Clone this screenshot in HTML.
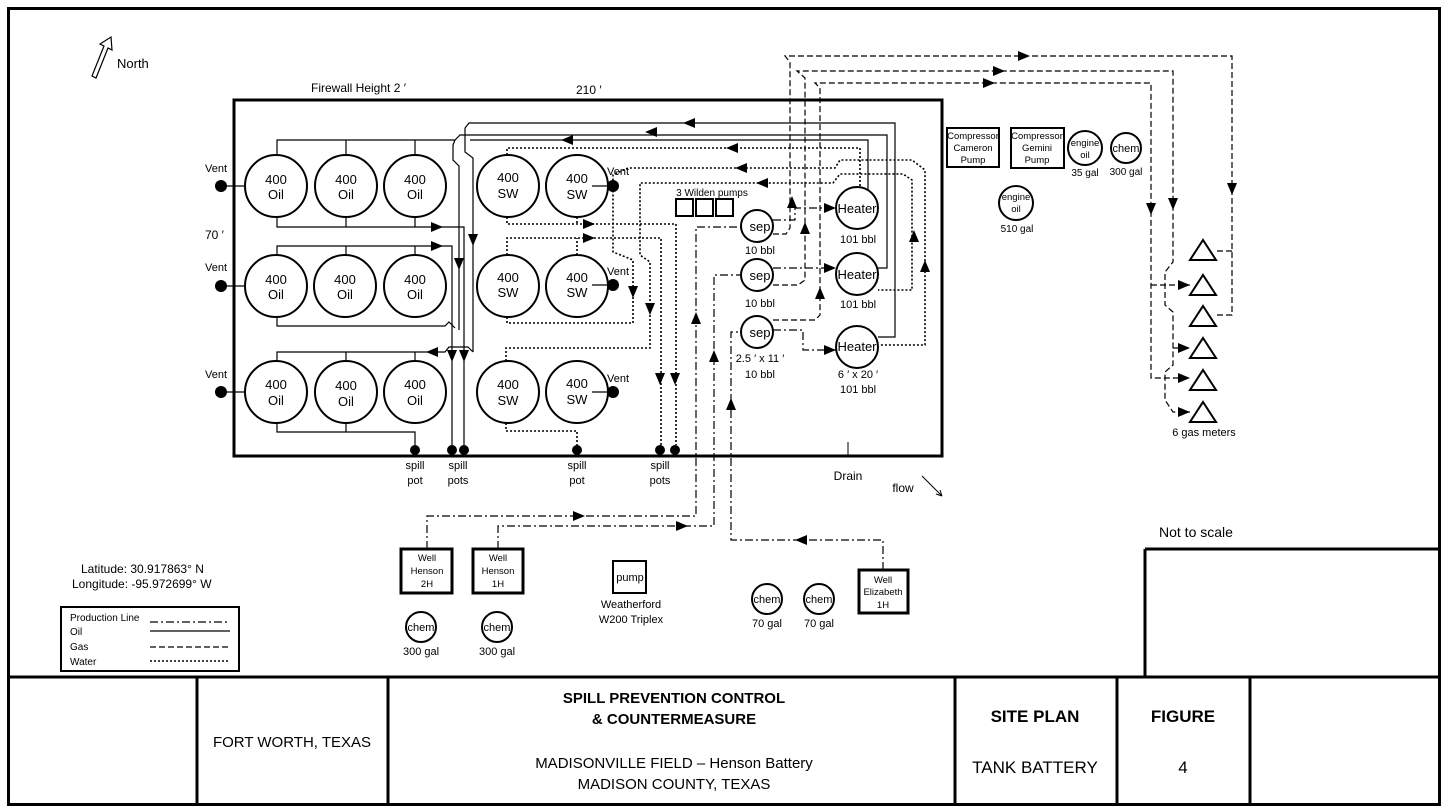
<!DOCTYPE html>
<html><head><meta charset="utf-8"><style>
html,body{margin:0;padding:0;background:#fff;}
svg{display:block;}
text{font-family:"Liberation Sans",sans-serif;fill:#000;}
</style></head><body>
<svg width="1448" height="811" viewBox="0 0 1448 811" xmlns="http://www.w3.org/2000/svg">
<g fill="none" stroke="#000">
<rect x="8.5" y="8.5" width="1431" height="796" stroke-width="3"/>
<line x1="8" y1="677" x2="1440" y2="677" stroke-width="3"/>
<line x1="197" y1="677" x2="197" y2="805" stroke-width="3"/>
<line x1="388" y1="677" x2="388" y2="805" stroke-width="3"/>
<line x1="955" y1="677" x2="955" y2="805" stroke-width="3"/>
<line x1="1117" y1="677" x2="1117" y2="805" stroke-width="3"/>
<line x1="1250" y1="677" x2="1250" y2="805" stroke-width="3"/>
<line x1="1145" y1="549" x2="1440" y2="549" stroke-width="3"/>
<line x1="1145" y1="549" x2="1145" y2="677" stroke-width="3"/>
<rect x="234" y="100" width="708" height="356" stroke-width="3"/>
<line x1="848" y1="442" x2="848" y2="456" stroke-width="1"/>
<path d="M92,76 L104,46 L100,44 L111,37 L112,50 L108,48 L96,78z" stroke-width="1.2"/>
<path d="M922,476 L942,496 M942,496 L936,494 M942,496 L940,490" stroke-width="1"/>
</g>

<g fill="none" stroke="#000" stroke-width="2">
<circle cx="276" cy="186" r="31"/><circle cx="346" cy="186" r="31"/><circle cx="415" cy="186" r="31"/>
<circle cx="276" cy="286" r="31"/><circle cx="345" cy="286" r="31"/><circle cx="415" cy="286" r="31"/>
<circle cx="276" cy="392" r="31"/><circle cx="346" cy="392" r="31"/><circle cx="415" cy="392" r="31"/>
<circle cx="508" cy="186" r="31"/><circle cx="577" cy="186" r="31"/>
<circle cx="508" cy="286" r="31"/><circle cx="577" cy="286" r="31"/>
<circle cx="508" cy="392" r="31"/><circle cx="577" cy="392" r="31"/>
<circle cx="757" cy="226" r="16"/><circle cx="757" cy="275" r="16"/><circle cx="757" cy="332" r="16"/>
<circle cx="857" cy="208" r="21"/><circle cx="857" cy="274" r="21"/><circle cx="857" cy="347" r="21"/>
<rect x="676" y="199" width="17" height="17"/><rect x="696" y="199" width="17" height="17"/><rect x="716" y="199" width="17" height="17"/>
<rect x="947" y="128" width="52" height="39"/><rect x="1011" y="128" width="53" height="40"/>
<circle cx="1085" cy="148" r="17"/><circle cx="1126" cy="148" r="15"/><circle cx="1016" cy="203" r="17"/>
<rect x="401" y="549" width="51" height="44" stroke-width="3"/><rect x="473" y="549" width="50" height="44" stroke-width="3"/>
<rect x="859" y="570" width="49" height="43" stroke-width="3"/>
<rect x="613" y="561" width="33" height="32"/>
<circle cx="421" cy="627" r="15"/><circle cx="497" cy="627" r="15"/><circle cx="767" cy="599" r="15"/><circle cx="819" cy="599" r="15"/>
<rect x="61" y="607" width="178" height="64" stroke-width="2"/>
</g>
<g fill="none" stroke="#000" stroke-width="2">
<path d="M1190,260 L1216,260 L1203,240z"/><path d="M1190,295 L1216,295 L1203,275z"/>
<path d="M1190,326 L1216,326 L1203,306z"/><path d="M1190,358 L1216,358 L1203,338z"/>
<path d="M1190,390 L1216,390 L1203,370z"/><path d="M1190,422 L1216,422 L1203,402z"/>
</g>
<g fill="#000">
<circle cx="221" cy="186" r="6"/><circle cx="221" cy="286" r="6"/><circle cx="221" cy="392" r="6"/>
<circle cx="613" cy="186" r="6"/><circle cx="613" cy="285" r="6"/><circle cx="613" cy="392" r="6"/>
<circle cx="415" cy="450" r="5"/><circle cx="452" cy="450" r="5"/><circle cx="464" cy="450" r="5"/>
<circle cx="577" cy="450" r="5"/><circle cx="660" cy="450" r="5"/><circle cx="675" cy="450" r="5"/>
</g>
<g fill="none" stroke="#000" stroke-width="1.2">
<path d="M221,186H245 M221,286H245 M221,392H245 M592,186H608 M592,285H608 M592,392H608"/>
<path d="M277,155V140H455 M346,155V140 M415,155V140"/>
<path d="M277,217V227H464V445 M346,217V227 M415,217V227"/>
<path d="M277,255V246H452V445 M346,255V246 M415,255V246"/>
<path d="M277,317V326H445L449,322L455,328"/>
<path d="M277,361V352H445L449,347H468L473,352 M346,361V352 M415,361V352"/>
<path d="M277,423V432H415V445 M346,423V432"/>
<path d="M455,140L460,135H887V268H878"/>
<path d="M455,140L453,145V160L459,166V330"/>
<path d="M465,128L469,123H895V337H878 M465,128V152L473,158V352"/>
<path d="M470,140H868V190"/>
</g>
<g fill="#000">
<path d="M443,227l-12,-5v10z M443,246l-12,-5v10z M426,352l12,-5v10z"/>
<path d="M464,362l-5,-12h10z M452,362l-5,-12h10z M459,270l-5,-12h10z M473,246l-5,-12h10z"/>
<path d="M683,123l12,-5v10z M645,132l12,-5v10z M561,140l12,-5v10z"/>
</g>
<g fill="none" stroke="#000" stroke-width="1.6" stroke-dasharray="2,2">
<path d="M507,155V148H860V188"/>
<path d="M507,217V224H676V445 M577,217V224"/>
<path d="M507,255V238H661V445 M577,255V238"/>
<path d="M507,317V323H633V260L613,252V175L628,168H835L840,160H912L925,170V345H880"/>
<path d="M506,361V348H650V262L640,255V183H833L840,174H903L912,180V290H878"/>
<path d="M506,423V431H577V445"/>
</g>
<g fill="#000">
<path d="M595,224l-12,-5v10z M595,238l-12,-5v10z M726,148l12,-5v10z M756,183l12,-5v10z M735,168l12,-5v10z"/>
<path d="M633,298l-5,-12h10z M650,315l-5,-12h10z M660,385l-5,-12h10z M675,385l-5,-12h10z"/>
<path d="M914,230l-5,12h10z M925,260l-5,12h10z"/>
</g>
<g fill="none" stroke="#000" stroke-width="1.2" stroke-dasharray="6,3">
<path d="M773,234H786L790,228V62L785,56H1232V315H1216"/>
<path d="M773,285H798L805,280V78L797,71H1173V262L1165,272V305L1173,312V365L1165,372V400L1173,412H1190"/>
<path d="M773,320H815L820,315V88L815,83H1151V378H1190 M1151,285H1190 M1173,348H1190"/>
<path d="M1232,251H1216"/>
</g>
<g fill="#000">
<path d="M792,196l-5,12h10z M805,222l-5,12h10z M820,287l-5,12h10z"/>
<path d="M1030,56l-12,-5v10z M1005,71l-12,-5v10z M995,83l-12,-5v10z"/>
<path d="M1232,195l-5,-12h10z M1173,210l-5,-12h10z M1151,215l-5,-12h10z"/>
<path d="M1190,285l-12,-5v10z M1190,348l-12,-5v10z M1190,378l-12,-5v10z M1190,412l-12,-5v10z"/>
</g>
<g fill="none" stroke="#000" stroke-width="1.2" stroke-dasharray="8,3,2,3">
<path d="M427,549V516H696V227H741"/>
<path d="M498,549V526H714V275H741"/>
<path d="M883,570V540H731V332H741"/>
<path d="M773,220H795V208H836 M773,268H836 M773,330H803V350H836"/>
<path d="M150,622H230"/>
</g>
<g fill="#000">
<path d="M585,516l-12,-5v10z M688,526l-12,-5v10z M795,540l12,-5v10z"/>
<path d="M696,312l-5,12h10z M714,350l-5,12h10z M731,398l-5,12h10z"/>
<path d="M836,208l-12,-5v10z M836,268l-12,-5v10z M836,350l-12,-5v10z"/>
</g>
<g fill="none" stroke="#000" stroke-width="1.2">
<path d="M150,631H230"/>
<path d="M150,647H230" stroke-dasharray="6,3"/>
<path d="M150,661H230" stroke-width="1.6" stroke-dasharray="2,2"/>
</g>

<g font-size="13" text-anchor="middle">
<text x="276" y="184">400</text><text x="276" y="199">Oil</text>
<text x="346" y="184">400</text><text x="346" y="199">Oil</text>
<text x="415" y="184">400</text><text x="415" y="199">Oil</text>
<text x="276" y="284">400</text><text x="276" y="299">Oil</text>
<text x="345" y="284">400</text><text x="345" y="299">Oil</text>
<text x="415" y="284">400</text><text x="415" y="299">Oil</text>
<text x="276" y="389">400</text><text x="276" y="405">Oil</text>
<text x="346" y="390">400</text><text x="346" y="406">Oil</text>
<text x="415" y="389">400</text><text x="415" y="405">Oil</text>
<text x="508" y="182">400</text><text x="508" y="198">SW</text>
<text x="577" y="183">400</text><text x="577" y="199">SW</text>
<text x="508" y="282">400</text><text x="508" y="297">SW</text>
<text x="577" y="282">400</text><text x="577" y="297">SW</text>
<text x="508" y="389">400</text><text x="508" y="405">SW</text>
<text x="577" y="388">400</text><text x="577" y="404">SW</text>
<text x="760" y="231">sep</text><text x="760" y="280">sep</text><text x="760" y="337">sep</text>
<text x="857" y="213">Heater</text><text x="857" y="279">Heater</text><text x="857" y="351">Heater</text>
</g>
<g font-size="11" text-anchor="middle">
<text x="216" y="172">Vent</text><text x="216" y="271">Vent</text><text x="216" y="378">Vent</text>
<text x="618" y="175">Vent</text><text x="618" y="275">Vent</text><text x="618" y="382">Vent</text>
<text x="760" y="254">10 bbl</text><text x="760" y="307">10 bbl</text>
<text x="760" y="362">2.5 ′ x 11 ′</text><text x="760" y="378">10 bbl</text>
<text x="858" y="243">101 bbl</text><text x="858" y="308">101 bbl</text>
<text x="858" y="378">6 ′ x 20 ′</text><text x="858" y="393">101 bbl</text>
<text x="712" y="196" font-size="10">3 Wilden pumps</text>
<text x="415" y="469">spill</text><text x="415" y="484">pot</text>
<text x="458" y="469">spill</text><text x="458" y="484">pots</text>
<text x="577" y="469">spill</text><text x="577" y="484">pot</text>
<text x="660" y="469">spill</text><text x="660" y="484">pots</text>
<text x="848" y="480" font-size="12">Drain</text>
<text x="903" y="492" font-size="12">flow</text>
<text x="973" y="139" font-size="9.5">Compressor</text><text x="973" y="151" font-size="9.5">Cameron</text><text x="973" y="163" font-size="9.5">Pump</text>
<text x="1037" y="139" font-size="9.5">Compressor</text><text x="1037" y="151" font-size="9.5">Gemini</text><text x="1037" y="163" font-size="9.5">Pump</text>
<text x="1085" y="146" font-size="9.5">engine</text><text x="1085" y="158" font-size="9.5">oil</text>
<text x="1126" y="152" font-size="11">chem</text>
<text x="1085" y="176" font-size="10">35 gal</text><text x="1126" y="175" font-size="10">300 gal</text>
<text x="1016" y="200" font-size="9.5">engine</text><text x="1016" y="212" font-size="9.5">oil</text>
<text x="1017" y="232" font-size="10">510 gal</text>
<text x="1204" y="436" font-size="11">6 gas meters</text>
<text x="427" y="561" font-size="9.5">Well</text><text x="427" y="574" font-size="9.5">Henson</text><text x="427" y="587" font-size="9.5">2H</text>
<text x="498" y="561" font-size="9.5">Well</text><text x="498" y="574" font-size="9.5">Henson</text><text x="498" y="587" font-size="9.5">1H</text>
<text x="883" y="583" font-size="9.5">Well</text><text x="883" y="595" font-size="9.5">Elizabeth</text><text x="883" y="608" font-size="9.5">1H</text>
<text x="630" y="581" font-size="11">pump</text>
<text x="631" y="608">Weatherford</text><text x="631" y="623">W200 Triplex</text>
<text x="421" y="631" font-size="11">chem</text><text x="497" y="631" font-size="11">chem</text>
<text x="767" y="603" font-size="11">chem</text><text x="819" y="603" font-size="11">chem</text>
<text x="421" y="655">300 gal</text><text x="497" y="655">300 gal</text>
<text x="767" y="627">70 gal</text><text x="819" y="627">70 gal</text>
</g>
<g font-size="12">
<text x="311" y="92">Firewall Height 2 ′</text>
<text x="576" y="94">210 ′</text>
<text x="205" y="239">70 ′</text>
<text x="117" y="68" font-size="13">North</text>
<text x="1159" y="537" font-size="14">Not to scale</text>
<text x="81" y="573">Latitude: 30.917863° N</text>
<text x="72" y="588">Longitude: -95.972699° W</text>
<text x="70" y="621" font-size="10">Production Line</text>
<text x="70" y="635" font-size="10">Oil</text>
<text x="70" y="650" font-size="10">Gas</text>
<text x="70" y="665" font-size="10">Water</text>
</g>
<g text-anchor="middle" font-size="15">
<text x="292" y="747">FORT WORTH, TEXAS</text>
<text x="674" y="703" font-weight="bold">SPILL PREVENTION CONTROL</text>
<text x="674" y="724" font-weight="bold">&amp; COUNTERMEASURE</text>
<text x="674" y="768">MADISONVILLE FIELD – Henson Battery</text>
<text x="674" y="789">MADISON COUNTY, TEXAS</text>
<text x="1035" y="722" font-weight="bold" font-size="17">SITE PLAN</text>
<text x="1035" y="773" font-size="17">TANK BATTERY</text>
<text x="1183" y="722" font-weight="bold" font-size="17">FIGURE</text>
<text x="1183" y="773" font-size="17">4</text>
</g>
</svg>
</body></html>
